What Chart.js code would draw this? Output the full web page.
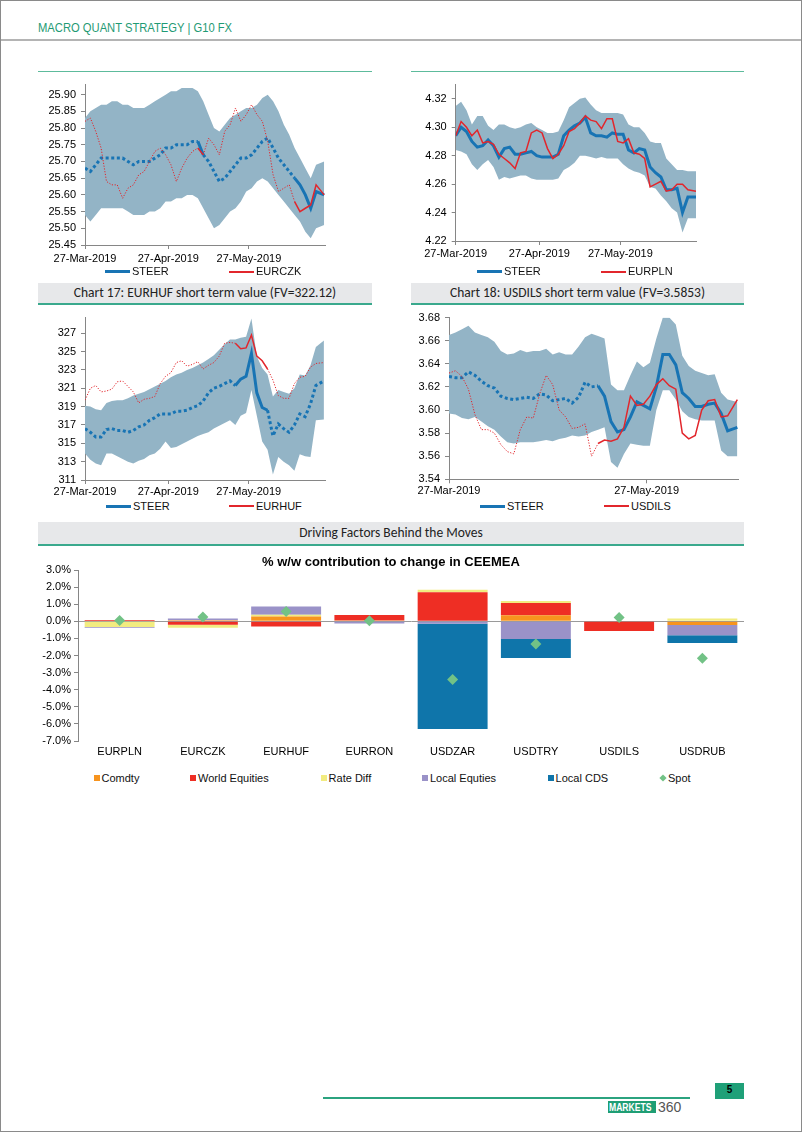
<!DOCTYPE html>
<html><head><meta charset="utf-8">
<script src="https://cdn.jsdelivr.net/npm/chart.js@4.4.1/dist/chart.umd.min.js"></script>
<style>
html,body{margin:0;padding:0;background:#fff;}
#page{position:relative;width:802px;height:1133px;overflow:hidden;font-family:'Liberation Sans',Arial,sans-serif;}
.abs{position:absolute;}
canvas{position:absolute;}
.frame{position:absolute;left:0;top:0;width:800px;height:1130px;border:1px solid #8a8a8a;}
.hdr{color:#1f9a74;font-size:13.5px;transform:scaleX(0.83);transform-origin:left center;white-space:nowrap;}
.bar{background:#e7e8ea;border-bottom:2px solid #3aa98d;text-align:center;font-family:'Carlito','Lato',sans-serif;font-size:13.5px;color:#222;}
.lg{font-size:11px;color:#111;white-space:nowrap;line-height:13px;}
</style></head>
<body><div id="page">
<div class="frame"></div>
<div class="abs hdr" style="left:38px;top:20px;">MACRO QUANT STRATEGY | G10 FX</div>
<div class="abs" style="left:1px;top:39px;width:800px;height:2px;background:#b4b4b4;"></div>
<div class="abs" style="left:38px;top:71px;width:334px;height:1px;background:#5dbb9c;"></div>
<div class="abs" style="left:411px;top:71px;width:333px;height:1px;background:#5dbb9c;"></div>
<div class="abs bar" style="left:38px;top:283px;width:334px;height:20px;line-height:20px;">Chart 17: EURHUF short term value (FV=322.12)</div>
<div class="abs bar" style="left:411px;top:283px;width:333px;height:20px;line-height:20px;">Chart 18: USDILS short term value (FV=3.5853)</div>
<div class="abs bar" style="left:38px;top:522px;width:706px;height:22px;line-height:22px;">Driving Factors Behind the Moves</div>
<canvas id="cCZK"></canvas>
<canvas id="cPLN"></canvas>
<canvas id="cHUF"></canvas>
<canvas id="cILS"></canvas>
<canvas id="cBar"></canvas>
<div id="legends"></div>
<div class="abs" style="left:323px;top:1097px;width:367px;height:2px;background:#2ba37f;"></div>
<div class="abs" style="left:715px;top:1083px;width:29px;height:16px;background:#1fa078;color:#000;font-weight:bold;font-size:10px;text-align:center;line-height:14px;">5</div>
<div class="abs" style="left:608px;top:1101px;width:48px;height:12px;background:#1f9e74;overflow:hidden;line-height:12px;font-size:11px;"><div style="position:absolute;left:1px;top:0;color:#fff;font-weight:bold;font-size:11px;line-height:12px;white-space:nowrap;transform:scaleX(0.78);transform-origin:left center;">MARKETS</div></div>
<div class="abs" style="left:658px;top:1099px;font-size:14px;color:#555;line-height:16px;">360</div>
</div>
<script>
// ---------- data ----------
const dayOffsets = [0,2,4,6,8,10,12,14,16,18,20,22,24,26,28,30,32,34,36,38,40,42,44,46,48,50,52,54,56,58,60,62,64,66,68,70,72,74,76,78,80,82,84,86,89];
const dateTickDays = [0,31,61];
const dateTickLabels = ['27-Mar-2019','27-Apr-2019','27-May-2019'];
const ilsTickDays = [0,61];
const ilsTickLabels = ['27-Mar-2019','27-May-2019'];

const czkTicks = [25.45,25.50,25.55,25.60,25.65,25.70,25.75,25.80,25.85,25.90];
const czkUpper = [25.83,25.85,25.86,25.87,25.87,25.88,25.88,25.87,25.87,25.86,25.86,25.86,25.87,25.88,25.89,25.90,25.91,25.91,25.92,25.92,25.92,25.91,25.88,25.84,25.80,25.79,25.81,25.83,25.84,25.85,25.86,25.86,25.87,25.89,25.90,25.88,25.85,25.81,25.78,25.74,25.71,25.68,25.65,25.69,25.70];
const czkLower = [25.54,25.52,25.54,25.56,25.56,25.56,25.56,25.56,25.55,25.54,25.54,25.54,25.55,25.55,25.56,25.58,25.58,25.59,25.59,25.60,25.60,25.59,25.56,25.53,25.50,25.51,25.53,25.55,25.56,25.58,25.61,25.62,25.64,25.65,25.64,25.62,25.60,25.58,25.56,25.54,25.52,25.49,25.47,25.50,25.51];
const czkSteer = [25.68,25.67,25.69,25.71,25.71,25.71,25.71,25.71,25.70,25.69,25.70,25.70,25.70,25.71,25.72,25.74,25.74,25.75,25.75,25.75,25.76,25.76,25.72,25.70,25.67,25.64,25.65,25.67,25.69,25.71,25.71,25.72,25.74,25.76,25.77,25.74,25.71,25.69,25.67,25.65,25.63,25.60,25.56,25.61,25.60];
const czkSpot  = [25.82,25.83,25.79,25.74,25.64,25.63,25.63,25.59,25.62,25.63,25.66,25.67,25.70,25.73,25.74,25.72,25.69,25.64,25.68,25.71,25.73,25.74,25.72,25.77,25.75,25.72,25.79,25.81,25.86,25.82,25.84,25.87,25.84,25.82,25.76,25.66,25.61,25.62,25.63,25.58,25.55,25.56,25.57,25.63,25.60];

const plnTicks = [4.22,4.24,4.26,4.28,4.30,4.32];
const plnUpper = [4.315,4.318,4.312,4.302,4.308,4.308,4.301,4.298,4.302,4.302,4.300,4.299,4.300,4.302,4.303,4.300,4.298,4.296,4.296,4.297,4.305,4.314,4.317,4.320,4.321,4.316,4.312,4.310,4.310,4.310,4.310,4.309,4.302,4.300,4.300,4.296,4.290,4.289,4.289,4.278,4.274,4.270,4.270,4.269,4.269];
const plnLower = [4.284,4.283,4.281,4.274,4.270,4.274,4.277,4.272,4.263,4.265,4.264,4.265,4.266,4.266,4.264,4.263,4.263,4.263,4.263,4.264,4.270,4.272,4.275,4.280,4.280,4.279,4.278,4.279,4.278,4.278,4.278,4.274,4.271,4.269,4.268,4.266,4.258,4.257,4.252,4.248,4.243,4.240,4.226,4.236,4.236];
const plnSteer = [4.294,4.300,4.297,4.290,4.286,4.287,4.291,4.287,4.279,4.285,4.286,4.281,4.281,4.282,4.283,4.280,4.279,4.279,4.279,4.281,4.294,4.298,4.301,4.303,4.307,4.296,4.294,4.294,4.293,4.296,4.295,4.295,4.284,4.282,4.285,4.284,4.272,4.268,4.265,4.256,4.256,4.257,4.240,4.251,4.251];
const plnSpot  = [4.294,4.304,4.300,4.294,4.298,4.289,4.290,4.288,4.281,4.278,4.275,4.271,4.282,4.283,4.296,4.298,4.296,4.285,4.278,4.281,4.287,4.297,4.299,4.303,4.308,4.305,4.304,4.299,4.306,4.306,4.290,4.289,4.292,4.282,4.281,4.278,4.258,4.260,4.262,4.255,4.256,4.260,4.260,4.256,4.255];

const hufTicks = [311,313,315,317,319,321,323,325,327];
const hufUpper = [319.1,319.0,318.7,318.6,319.4,319.6,319.7,319.7,319.9,320.2,320.4,320.6,320.9,321.2,321.5,321.8,322.2,322.5,322.7,323.0,323.2,323.5,323.8,324.2,324.6,325.2,325.8,326.3,326.3,326.5,326.6,328.6,324.5,323.2,322.5,320.1,320.8,320.6,320.4,321.0,322.5,322.4,323.5,325.5,326.2];
const hufLower = [313.9,313.2,312.8,312.6,313.9,313.9,313.6,313.3,313.0,312.8,313.1,313.3,313.7,313.9,314.4,315.2,314.5,314.6,314.9,315.2,315.5,315.8,316.0,316.2,316.6,316.9,317.2,317.5,317.0,318.0,318.3,320.8,318.0,315.2,314.3,311.6,313.5,313.0,312.6,312.0,313.8,313.6,313.5,317.5,317.6];
const hufSteer = [316.6,316.2,315.7,315.7,316.5,316.6,316.4,316.4,316.2,316.4,316.8,317.0,317.5,317.8,318.2,318.2,318.2,318.5,318.5,318.6,318.9,319.1,319.6,320.5,321.0,321.2,321.5,321.8,321.3,322.0,322.3,324.8,320.5,318.9,318.6,315.8,317.1,316.6,316.2,317.0,318.2,317.9,319.3,321.3,321.8];
const hufSpot  = [319.7,321.0,321.3,320.6,320.7,320.9,321.7,321.8,321.2,320.6,319.4,319.8,319.9,320.1,321.5,322.3,322.7,323.8,324.0,323.4,323.6,323.9,323.1,323.5,323.8,324.5,325.9,326.0,325.9,325.3,325.4,326.8,324.5,324.0,323.1,321.9,320.2,319.9,319.9,321.5,322.2,322.3,323.3,323.7,323.8];

const ilsTicks = [3.54,3.56,3.58,3.60,3.62,3.64,3.66,3.68];
const ilsUpper = [3.665,3.667,3.670,3.673,3.667,3.665,3.663,3.659,3.651,3.648,3.649,3.652,3.650,3.651,3.651,3.653,3.648,3.650,3.648,3.648,3.655,3.663,3.666,3.664,3.662,3.622,3.617,3.617,3.630,3.642,3.637,3.641,3.662,3.680,3.680,3.674,3.647,3.638,3.634,3.632,3.630,3.631,3.615,3.609,3.607];
const ilsLower = [3.597,3.596,3.593,3.592,3.594,3.590,3.586,3.583,3.577,3.572,3.571,3.572,3.572,3.572,3.573,3.574,3.573,3.575,3.576,3.578,3.577,3.578,3.581,3.583,3.585,3.555,3.550,3.562,3.571,3.570,3.569,3.569,3.600,3.617,3.617,3.609,3.599,3.594,3.592,3.591,3.591,3.591,3.565,3.560,3.560];
const ilsSteer = [3.629,3.628,3.628,3.633,3.630,3.625,3.621,3.619,3.612,3.610,3.609,3.610,3.611,3.610,3.614,3.613,3.608,3.609,3.610,3.606,3.611,3.624,3.620,3.621,3.612,3.590,3.581,3.583,3.594,3.607,3.604,3.601,3.620,3.648,3.648,3.639,3.615,3.610,3.603,3.603,3.605,3.606,3.597,3.582,3.585];
const ilsSpot  = [3.632,3.634,3.629,3.618,3.596,3.583,3.583,3.580,3.570,3.564,3.562,3.583,3.594,3.593,3.614,3.630,3.622,3.600,3.594,3.584,3.585,3.588,3.560,3.571,3.574,3.573,3.575,3.585,3.612,3.604,3.605,3.612,3.622,3.627,3.621,3.618,3.580,3.575,3.578,3.600,3.608,3.609,3.594,3.595,3.609];

const pairs = ['EURPLN','EURCZK','EURHUF','EURRON','USDZAR','USDTRY','USDILS','USDRUB'];
const factorNames = ['Comdty','World Equities','Rate Diff','Local Equties','Local CDS'];
const comdty   = [0.03, 0.06, 0.28, 0.04, 0.00, 0.35, 0.00, -0.22];
const worldEq  = [0.04,-0.20,-0.30, 0.33, 1.70, 0.72,-0.57, 0.00];
const rateDiff = [-0.33,-0.17,0.10, 0.00, 0.14, 0.12, 0.00, 0.16];
const localEq  = [-0.04,0.10, 0.48,-0.13,-0.15,-1.04, 0.00,-0.60];
const localCDS = [0.00, 0.00, 0.00, 0.00,-6.15,-1.10, 0.00,-0.45];
const spotChg  = [0.05, 0.25, 0.58, 0.03,-3.41,-1.33, 0.22,-2.16];
const pctTicks = [-7,-6,-5,-4,-3,-2,-1,0,1,2,3];

// ---------- drawing ----------
const BLUE='#1874b4', RED='#e2262c', BAND='#93b4c6', AXIS='#868686', GREEN='#72c286';
const factorColors = ['#f7941e','#ee2e24','#f2ec80','#9a92c8','#0f75aa'];
Chart.defaults.font.family = "'Liberation Sans', Arial, sans-serif";
Chart.defaults.font.size = 11;
Chart.defaults.color = '#111';

function placeCanvas(id, box){
  const c=document.getElementById(id);
  c.width=box.W; c.height=box.H; c.style.left=box.L+'px'; c.style.top=box.T+'px';
  return c;
}

function lineChart(id, box, area, s){
  const c = placeCanvas(id, box);
  const solidAt = x => s.solid.some(r => x >= r[0] && x <= r[1]);
  const isSolid = ctx => solidAt(ctx.p0.parsed.x) && solidAt(ctx.p1.parsed.x);
  const pts = arr => dayOffsets.map((d,i) => ({x:d, y:arr[i]}));
  return new Chart(c, {
    type:'line',
    data:{datasets:[
      {label:'STEER', data:pts(s.steer), borderColor:BLUE, borderWidth:3, pointRadius:0, fill:false, order:1,
        segment:{borderDash: ctx => isSolid(ctx) ? [] : [3,2.6]}},
      {label:s.name, data:pts(s.spot), borderColor:RED, borderWidth:1.5, pointRadius:0, fill:false, order:0,
        segment:{borderDash: ctx => isSolid(ctx) ? [] : [1.2,1.6], borderWidth: ctx => isSolid(ctx) ? 1.5 : 1}},
      {label:'upper', data:pts(s.upper), borderWidth:0, pointRadius:0, backgroundColor:BAND, fill:'+1', order:2},
      {label:'lower', data:pts(s.lower), borderWidth:0, pointRadius:0, backgroundColor:BAND, fill:false, order:3}
    ]},
    options:{
      responsive:false, animation:false, devicePixelRatio:1,
      layout:{padding:{left:0, top:area.t-box.T, right:box.L+box.W-area.r, bottom:0}},
      plugins:{legend:{display:false}, tooltip:{enabled:false}},
      scales:{
        x:{type:'linear', min:0, max:s.xMax,
          afterBuildTicks: ax => { ax.ticks = s.xTicks.map(v=>({value:v})); },
          afterFit: sc => { sc.height = box.T+box.H-area.b; },
          ticks:{autoSkip:false, maxRotation:0, padding:s.xPad, color:'#000', callback:(v,i)=>s.xLabels[i]},
          grid:{drawOnChartArea:false, tickLength:4, color:AXIS},
          border:{color:AXIS}},
        y:{min:s.yMin, max:s.yMax,
          afterBuildTicks: ax => { ax.ticks = s.yTicks.map(v=>({value:v})); },
          afterFit: sc => { sc.width = area.l-box.L; },
          ticks:{padding:5, color:'#000', callback:v=>Number(v).toFixed(s.dec)},
          grid:{drawOnChartArea:false, tickLength:4, color:AXIS},
          border:{color:AXIS}}
      }
    }
  });
}

lineChart('cCZK', {L:38,T:73,W:300,H:195}, {l:85,t:83,r:325.5,b:245},
  {name:'EURCZK', steer:czkSteer, spot:czkSpot, upper:czkUpper, lower:czkLower, solid:[[42,44],[78,89]],
   xMax:89.5, xTicks:dateTickDays, xLabels:dateTickLabels, xPad:3, yMin:25.45, yMax:25.93, yTicks:czkTicks, dec:2});
lineChart('cPLN', {L:411,T:73,W:300,H:190}, {l:455.7,t:83,r:696,b:241},
  {name:'EURPLN', steer:plnSteer, spot:plnSpot, upper:plnUpper, lower:plnLower, solid:[[0,89]],
   xMax:89, xTicks:dateTickDays, xLabels:dateTickLabels, xPad:2.4, yMin:4.22, yMax:4.33, yTicks:plnTicks, dec:2});
lineChart('cHUF', {L:38,T:306,W:300,H:194}, {l:85,t:316.7,r:325,b:480},
  {name:'EURHUF', steer:hufSteer, spot:hufSpot, upper:hufUpper, lower:hufLower, solid:[[56,68]],
   xMax:89.4, xTicks:dateTickDays, xLabels:dateTickLabels, xPad:1.1, yMin:311, yMax:328.7, yTicks:hufTicks, dec:0});
lineChart('cILS', {L:405,T:306,W:345,H:194}, {l:449,t:316,r:738,b:479.3},
  {name:'USDILS', steer:ilsSteer, spot:ilsSpot, upper:ilsUpper, lower:ilsLower, solid:[[46,89]],
   xMax:89.2, xTicks:ilsTickDays, xLabels:ilsTickLabels, xPad:0.8, yMin:3.54, yMax:3.68, yTicks:ilsTicks, dec:2});

// bar chart
const factorSeries = [comdty, worldEq, rateDiff, localEq, localCDS];
const barDatasets = factorSeries.map((vals,k)=>({
  label:factorNames[k], data:vals, backgroundColor:factorColors[k], borderWidth:0,
  barPercentage:0.84, categoryPercentage:1.0, order:1
}));
barDatasets.push({type:'line', label:'Spot', data:spotChg, showLine:false, pointStyle:'rectRot',
  pointRadius:5.5, pointBackgroundColor:GREEN, pointBorderColor:GREEN, pointBorderWidth:0, order:0});
const bc = placeCanvas('cBar', {L:38,T:552,W:712,H:210});
new Chart(bc, {
  type:'bar',
  data:{labels:pairs, datasets:barDatasets},
  options:{
    responsive:false, animation:false, devicePixelRatio:1,
    layout:{padding:{left:0, top:0.4, right:6, bottom:0}},
    plugins:{legend:{display:false}, tooltip:{enabled:false},
      title:{display:true, text:'% w/w contribution to change in CEEMEA', color:'#000',
        font:{size:13, weight:'bold'}, padding:{top:2,bottom:0}}},
    scales:{
      x:{stacked:true, grid:{display:false, drawTicks:false}, border:{display:false},
        ticks:{padding:4.4, color:'#000'}, afterFit: sc => { sc.height = 762-741; }},
      y:{stacked:true, min:-7, max:3,
        afterBuildTicks: ax => { ax.ticks = pctTicks.map(v=>({value:v})); },
        afterFit: sc => { sc.width = 40; },
        ticks:{padding:3, color:'#000', callback:v=>Number(v).toFixed(1)+'%'},
        grid:{color: c => (c.tick && c.tick.value===0) ? '#9a9a9a' : 'rgba(0,0,0,0)', tickColor:AXIS, tickLength:4},
        border:{color:AXIS}}
    }
  }
});

// HTML legends
const lg = document.getElementById('legends');
function addLineLegend(items, y){
  items.forEach(it=>{
    const ln=document.createElement('div'); ln.className='abs';
    ln.style.cssText=`left:${it.x}px;top:${Math.round(y-it.w/2)}px;width:25px;height:${it.w}px;background:${it.c};`;
    lg.appendChild(ln);
    const t=document.createElement('div'); t.className='abs lg'; t.textContent=it.t;
    t.style.left=(it.x+27)+'px'; t.style.top=(y-6.5)+'px'; lg.appendChild(t);
  });
}
addLineLegend([{x:105,t:'STEER',c:BLUE,w:3},{x:229,t:'EURCZK',c:RED,w:2}], 271.5);
addLineLegend([{x:477,t:'STEER',c:BLUE,w:3},{x:601,t:'EURPLN',c:RED,w:2}], 271.7);
addLineLegend([{x:106,t:'STEER',c:BLUE,w:3},{x:229,t:'EURHUF',c:RED,w:2}], 506);
addLineLegend([{x:480,t:'STEER',c:BLUE,w:3},{x:604,t:'USDILS',c:RED,w:2}], 506);

const barLegendX = [96.5,193,323.6,425,550.6,663];
const barLegendNames = factorNames.concat(['Spot']);
const barLegendColors = factorColors.concat([GREEN]);
barLegendNames.forEach((n,k)=>{
  const m=document.createElement('div'); m.className='abs';
  const isDiamond = k===5;
  m.style.cssText=`left:${barLegendX[k]-3}px;top:${778-3}px;width:6px;height:6px;background:${barLegendColors[k]};`+(isDiamond?'transform:rotate(45deg) scale(0.85);':'');
  lg.appendChild(m);
  const t=document.createElement('div'); t.className='abs lg'; t.textContent=n;
  t.style.left=(barLegendX[k]+5)+'px'; t.style.top=(778-6.5)+'px'; lg.appendChild(t);
});
</script>
</body></html>
